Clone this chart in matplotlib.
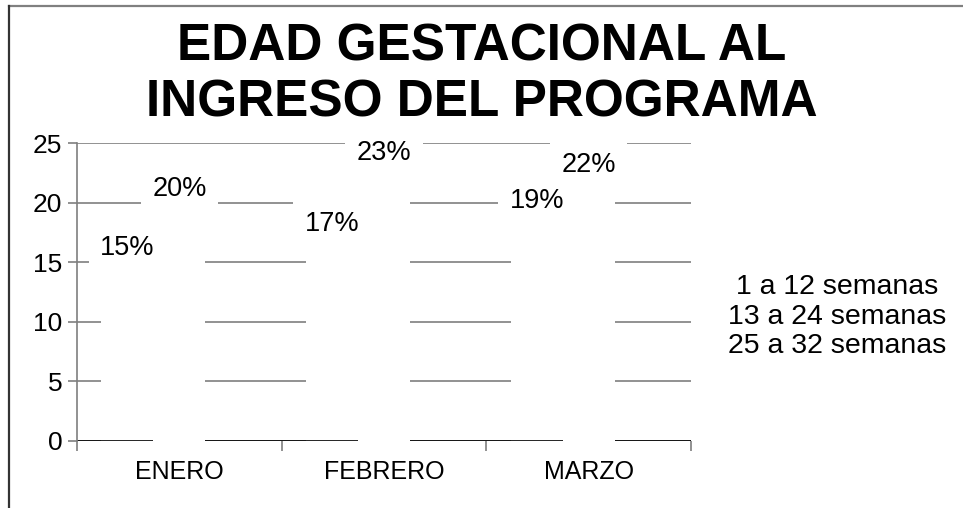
import matplotlib
matplotlib.use('Agg')
import matplotlib.pyplot as plt
from matplotlib import font_manager
from matplotlib.lines import Line2D
import numpy as np

title_lines = ['EDAD GESTACIONAL AL', 'INGRESO DEL PROGRAMA']
months = ['ENERO', 'FEBRERO', 'MARZO']
series_names = ['1 a 12 semanas', '13 a 24 semanas', '25 a 32 semanas']
semanas_1_12 = [15, 17, 19]
semanas_13_24 = [20, 23, 22]
semanas_25_32 = [0, 0, 0]
yticks = [0, 5, 10, 15, 20, 25]

plt.rcParams['font.family'] = ['Liberation Sans', 'DejaVu Sans']

names = {f.name for f in font_manager.fontManager.ttflist}
if 'Liberation Sans Narrow' in names:
    title_family, title_size = 'Liberation Sans Narrow', 46
else:
    title_family, title_size = 'Liberation Sans', 37

fig = plt.figure(figsize=(9.63, 5.08), dpi=100)
ax = fig.add_axes([0.080, 0.1319, 0.6376, 0.5866])

x = np.arange(len(months))
w = 0.254
all_series = [semanas_1_12, semanas_13_24, semanas_25_32]
zorders = [1, 2, 2]
for j, vals in enumerate(all_series):
    pos = x + (j - 1) * w
    ax.bar(pos, vals, w, color='white', edgecolor='none', zorder=zorders[j],
           label=series_names[j])
    for xp, v in zip(pos, vals):
        if v > 0:
            ax.annotate(f'{v}%', (xp, v), xytext=(0, 10), textcoords='offset points',
                        ha='center', va='center', fontsize=19.5, zorder=3,
                        bbox=dict(boxstyle='square,pad=0.42', fc='white', ec='none'))

# baseline drawn between the two visible series
ax.axhline(0, color='black', lw=1.2, zorder=1.5)

ax.set_xlim(-0.5, 2.5)
ax.set_ylim(0, 25)
ax.set_yticks(yticks)
ax.yaxis.grid(True, color='#7f7f7f', lw=1.2)
ax.set_axisbelow(True)

for s in ['top', 'right', 'bottom']:
    ax.spines[s].set_visible(False)
ax.spines['left'].set_color('#7f7f7f')
ax.spines['left'].set_linewidth(1.2)

ax.tick_params(axis='y', direction='out', length=6.5, width=1.2, color='#7f7f7f',
               labelsize=19, pad=4)
ax.set_xticks(x)
ax.set_xticklabels(months)
ax.tick_params(axis='x', which='major', length=0, labelsize=18, pad=14)
ax.set_xticks([-0.5, 0.5, 1.5, 2.5], minor=True)
ax.tick_params(axis='x', which='minor', direction='out', length=7, width=1.2,
               color='#7f7f7f')

# legend: text only, centred
for i, name in enumerate(series_names):
    fig.text(0.869, 1 - (287 + 29.5 * i) / 508, name, ha='center', va='center',
             fontsize=20.5)

# title
fig.text(0.5, 1 - 47 / 508, title_lines[0], ha='center', va='center',
         fontsize=title_size, fontweight='bold', family=title_family)
fig.text(0.5, 1 - 103 / 508, title_lines[1], ha='center', va='center',
         fontsize=title_size, fontweight='bold', family=title_family)

# chart area border (top and left)
fig.add_artist(Line2D([8.5 / 963, 1], [1 - 5.5 / 508, 1 - 5.5 / 508],
                      transform=fig.transFigure, color='#808080', lw=1.6))
fig.add_artist(Line2D([8.5 / 963, 8.5 / 963], [0, 1 - 5.5 / 508],
                      transform=fig.transFigure, color='#333333', lw=1.6))

fig.savefig('out.png', dpi=100)
